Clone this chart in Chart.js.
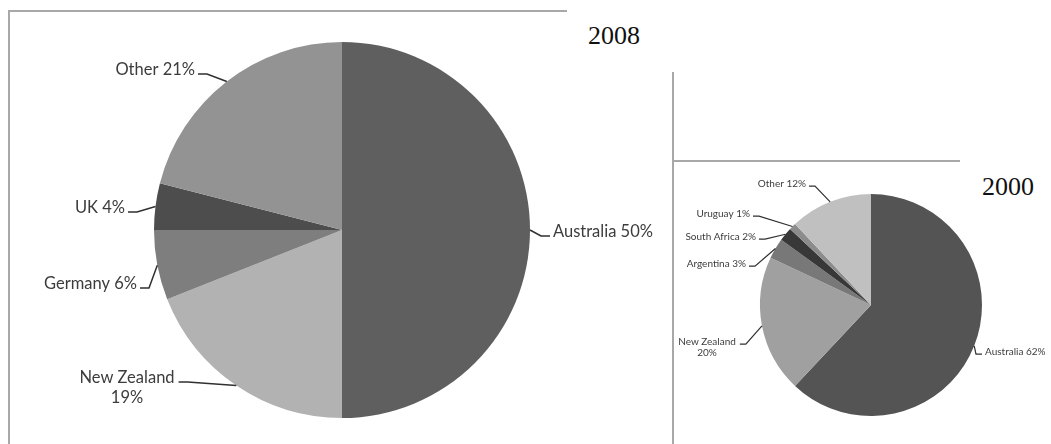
<!DOCTYPE html>
<html>
<head>
<meta charset="utf-8">
<script src="https://cdn.jsdelivr.net/npm/chart.js@4/dist/chart.umd.min.js"></script>
<style>
body{margin:0;background:#fff;width:1051px;height:444px;overflow:hidden;position:relative}
canvas{position:absolute}
.ln{position:absolute;background:#a8a8a8}
.yr{position:absolute;font-family:"Liberation Serif","DejaVu Serif",serif;font-size:26px;color:#111}
</style>
</head>
<body>
<div class="ln" style="left:8px;top:10px;width:559px;height:2px"></div>
<div class="ln" style="left:8px;top:10px;width:2px;height:434px"></div>
<div class="ln" style="left:672px;top:72px;width:2px;height:372px"></div>
<div class="ln" style="left:672px;top:160px;width:288px;height:2px"></div>
<div class="yr" style="left:588px;top:21px">2008</div>
<div class="yr" style="left:982px;top:172px">2000</div>
<canvas id="c08" width="670" height="444" style="left:0;top:0"></canvas>
<canvas id="c00" width="377" height="282" style="left:674px;top:162px"></canvas>
<script>
// 2008
const cats08=['Australia','New Zealand','Germany','UK','Other'];
const vals08=[50,19,6,4,21];
const cols08=['#5f5f5f','#b2b2b2','#7e7e7e','#4d4d4d','#939393'];
// 2000
const cats00=['Australia','New Zealand','Argentina','South Africa','Uruguay','Other'];
const vals00=[62,20,3,2,1,12];
const cols00=['#545454','#a0a0a0','#787878','#383838','#8c8c8c','#c0c0c0'];

// label placement (page px): text x, text y, align
const lay08=[[553,232,'left'],[127,378,'center'],[137,284,'right'],[125,208,'right'],[195,70,'right']];
const lay00=[[985,352,'left'],[707,342,'center'],[746,264,'right'],[756,237,'right'],[750,214,'right'],[806,184,'right']];

function txt(c,v){
 if(c==='New Zealand') return [c,v+'%'];
 return [c+' '+v+'%'];
}

const labelPlugin={id:'lbl',afterDraw(chart,args,o){
 const ctx=chart.ctx,meta=chart.getDatasetMeta(0);
 const cats=chart.data.labels,vals=chart.data.datasets[0].data;
 ctx.save();
 ctx.font=o.font;ctx.fillStyle='#3c3c3c';ctx.strokeStyle='#303030';ctx.lineWidth=o.lw;
 ctx.textBaseline='middle';
 meta.data.forEach((arc,i)=>{
  const p=arc.getProps(['x','y','startAngle','endAngle','outerRadius'],true);
  const a=(p.startAngle+p.endAngle)/2;
  const ax=p.x+Math.cos(a)*p.outerRadius,ay=p.y+Math.sin(a)*p.outerRadius;
  const L=o.lay[i],tx=L[0]-o.ox,ty=L[1]-o.oy,al=L[2];
  const lines=txt(cats[i],vals[i]);
  ctx.textAlign=al;
  lines.forEach((s,k)=>ctx.fillText(s,tx,ty+k*o.lh));
  const w=ctx.measureText(lines[0]).width;
  let ex,dir;
  if(al==='left'){ex=tx-3;dir=-1;}
  else if(al==='right'){ex=tx+3;dir=1;}
  else {ex=tx+w/2+4;dir=1;}
  const ey=ty+o.lh*0.2;
  ctx.beginPath();
  ctx.moveTo(ax,ay);
  ctx.lineTo(ex+dir*o.el,ey);
  ctx.lineTo(ex,ey);
  ctx.stroke();
 });
 ctx.restore();
}};

function pie(id,cats,vals,cols,pad,lay,ox,oy,font,lh,lw,el){
 return new Chart(document.getElementById(id),{
  type:'pie',
  data:{labels:cats,datasets:[{data:vals,backgroundColor:cols,borderWidth:0}]},
  options:{responsive:false,animation:false,layout:{padding:pad},
   plugins:{legend:{display:false},tooltip:{enabled:false},
    lbl:{lay:lay,ox:ox,oy:oy,font:font,lh:lh,lw:lw,el:el}}},
  plugins:[labelPlugin]
 });
}

pie('c08',cats08,vals08,cols08,{left:154,right:140,top:42,bottom:26},lay08,0,0,'16.5px Lato',20,1.5,9);
pie('c00',cats00,vals00,cols00,{left:86,right:69,top:32,bottom:28},lay00,674,162,'10px Lato',11,1.2,6);
</script>
</body>
</html>
